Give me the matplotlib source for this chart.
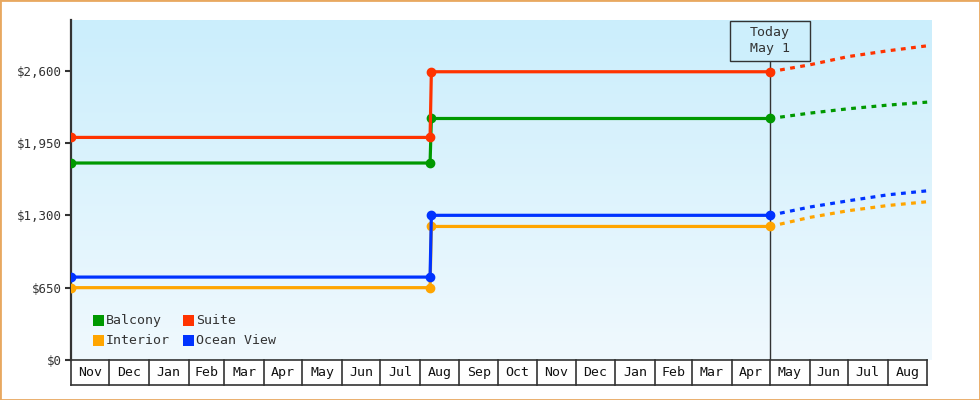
import matplotlib
matplotlib.use('Agg')
import matplotlib.pyplot as plt
import matplotlib.dates as mdates
from matplotlib.colors import LinearSegmentedColormap
from matplotlib.patches import Rectangle
from matplotlib.lines import Line2D
import numpy as np
import pandas as pd

plt.rcParams['text.parse_math'] = False
plt.rcParams['font.family'] = ['DejaVu Sans Mono', 'DejaVu Sans']

# ---------------- data ----------------
series_names = ['Balcony', 'Suite', 'Interior', 'Ocean View']
series_colors = ['#009900', '#ff3300', '#ffa500', '#0033ff']

history_dates = ['2022-11-01', '2023-08-09', '2023-08-10', '2024-05-01']
balcony_hist = [1770, 1770, 2170, 2170]
suite_hist = [2000, 2000, 2590, 2590]
interior_hist = [650, 650, 1200, 1200]
ocean_hist = [745, 745, 1300, 1300]

forecast_dates = ['2024-05-01', '2024-06-01', '2024-07-01', '2024-08-01', '2024-09-01']
balcony_fc = [2170, 2218, 2257, 2290, 2317]
suite_fc = [2590, 2652, 2726, 2778, 2823]
interior_fc = [1200, 1281, 1341, 1388, 1422]
ocean_fc = [1300, 1374, 1430, 1484, 1520]

y_ticks = [0, 650, 1300, 1950, 2600]
y_tick_labels = ['$0', '$650', '$1,300', '$1,950', '$2,600']
month_labels = ['Nov', 'Dec', 'Jan', 'Feb', 'Mar', 'Apr', 'May', 'Jun', 'Jul', 'Aug', 'Sep',
                'Oct', 'Nov', 'Dec', 'Jan', 'Feb', 'Mar', 'Apr', 'May', 'Jun', 'Jul', 'Aug']
today_date = '2024-05-01'
today_label = 'Today\nMay 1'

hist = [balcony_hist, suite_hist, interior_hist, ocean_hist]
fc = [balcony_fc, suite_fc, interior_fc, ocean_fc]

# ---------------- figure ----------------
W, H = 980, 400
fig = plt.figure(figsize=(W / 100, H / 100), dpi=100)
fig.patch.set_facecolor('white')


def fx(x):
    return x / W


def fy(y):
    return 1 - y / H


ax = fig.add_axes([fx(71), fy(360), (931 - 71) / W, (360 - 20) / H])

# gradient background
cmap = LinearSegmentedColormap.from_list('bg', ['#f0f9fe', '#cbeefc'])
ax.imshow(np.linspace(0, 1, 256).reshape(-1, 1), cmap=cmap, extent=[0, 1, 0, 1],
          transform=ax.transAxes, aspect='auto', origin='lower', zorder=0)

hd = mdates.date2num(pd.to_datetime(history_dates))
fd = mdates.date2num(pd.to_datetime(forecast_dates))
for vals, fvals, col in zip(hist, fc, series_colors):
    ax.plot(hd, vals, color=col, lw=2.3, marker='o', ms=6, zorder=3,
            solid_joinstyle='miter')
    ax.plot(fd, fvals, color=col, lw=2.3, ls=(0, (1.5, 1.7)), zorder=3)

x0 = mdates.date2num(pd.Timestamp('2022-11-01'))
x1 = mdates.date2num(pd.Timestamp('2024-09-04'))
ax.set_xlim(x0, x1)
ax.set_ylim(0, 3055)

# axes styling
for s in ['top', 'right', 'bottom']:
    ax.spines[s].set_visible(False)
ax.spines['left'].set_color('#333333')
ax.spines['left'].set_linewidth(1.6)
ax.set_xticks([])
ax.set_yticks(y_ticks)
ax.set_yticklabels(y_tick_labels)
ax.tick_params(axis='y', length=4.5, width=1.5, color='#333333', pad=2,
               labelsize=9, labelcolor='#333333')

# month boxes below axis
bounds = mdates.date2num(pd.date_range('2022-11-01', '2024-09-01', freq='MS'))
trans = ax.get_xaxis_transform()
ybox_top = 0
ybox_bot = -(385 - 360) / 340
ax.plot([x0, bounds[-1]], [ybox_top, ybox_top], transform=trans, color='#333333',
        lw=1.2, clip_on=False, zorder=4)
ax.plot([x0, bounds[-1]], [ybox_bot, ybox_bot], transform=trans, color='#333333',
        lw=1.2, clip_on=False, zorder=4)
for b in bounds:
    ax.plot([b, b], [ybox_top, ybox_bot], transform=trans, color='#333333', lw=1.2,
            clip_on=False, zorder=4)
for i, lab in enumerate(month_labels):
    ax.text((bounds[i] + bounds[i + 1]) / 2, (ybox_top + ybox_bot) / 2, lab,
            transform=trans, ha='center', va='center', fontsize=9.5, color='#111111')

# today marker
td = mdates.date2num(pd.Timestamp(today_date))
ax.plot([td, td], [0, (360 - 60.5) / 340], transform=trans, color='#333333', lw=1.0,
        zorder=2)
fig.canvas.draw()
tx_px = ax.transData.transform((td, 0))[0]
box_w, box_h = 80, 40
fig.patches.append(Rectangle((tx_px / W - box_w / 2 / W, fy(60.5)), box_w / W, box_h / H,
                             transform=fig.transFigure, facecolor='#cdeffc',
                             edgecolor='#333333', lw=1.0, zorder=5))
fig.text(tx_px / W, fy(40.5), today_label, ha='center', va='center', fontsize=9.5,
         color='#333333', linespacing=1.25, zorder=6)

# legend (manual, two columns)
legend_pos = [(93, 315), (183, 315), (93, 335), (183, 335)]
for (lx, ly), name, col in zip(legend_pos, series_names, series_colors):
    fig.patches.append(Rectangle((fx(lx), fy(ly + 11)), 11 / W, 11 / H,
                                 transform=fig.transFigure, facecolor=col,
                                 edgecolor='none', zorder=5))
    fig.text(fx(lx + 13), fy(ly + 5.5), name, ha='left', va='center', fontsize=9.5,
             color='#333333', zorder=6)

# outer border
fig.patches.append(Rectangle((0, 0), 1, 1, transform=fig.transFigure, fill=False,
                             edgecolor='#e8a860', lw=2.0, zorder=10))

fig.savefig('out.png', dpi=100)
